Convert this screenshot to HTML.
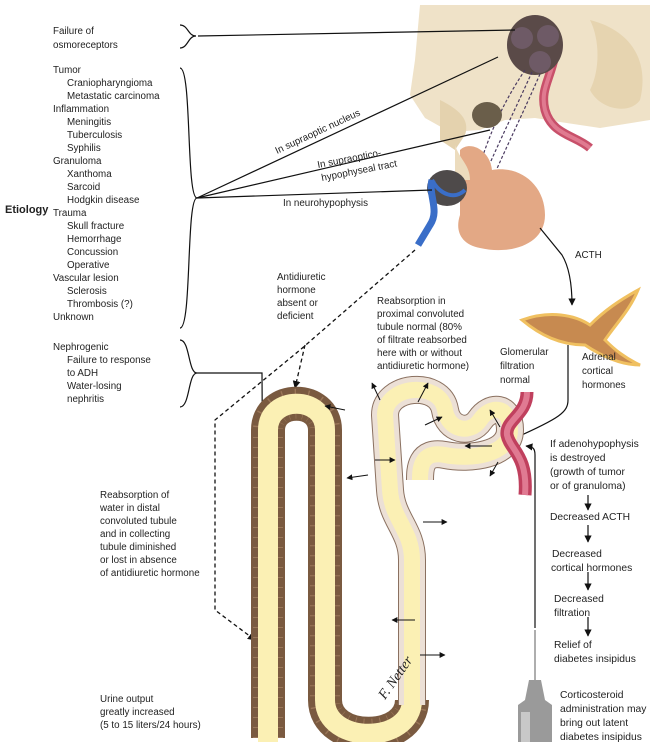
<!DOCTYPE html>
<html><head><meta charset="utf-8"><style>
html,body{margin:0;padding:0;background:#fff;}
svg{display:block;}
text{font-family:"Liberation Sans",sans-serif;font-size:9.8px;fill:#222;}
.r{font-size:10.3px;}
</style></head><body>
<svg width="650" height="742" viewBox="0 0 650 742" xmlns="http://www.w3.org/2000/svg">
<defs>
<marker id="ah" viewBox="0 0 10 10" refX="9" refY="5" markerWidth="6" markerHeight="6" orient="auto"><path d="M0,0L10,5L0,10z" fill="#111"/></marker>
</defs>
<path d="M420,5 L650,5 L650,120 L600,128 L560,122 L535,118 L505,120 L480,130 L450,132 L425,118 L410,95 L415,60 Z" fill="#efe2c8"/>
<path d="M590,20 C630,30 650,60 640,100 C630,115 600,110 590,90 C600,70 600,40 590,20Z" fill="#e6d4b0"/>
<path d="M440,100 C460,110 470,120 465,135 L455,150 L440,140 Z" fill="#e4d2ae"/>
<path d="M520,35 C535,20 560,25 555,55 C550,80 540,90 545,110 C552,135 575,135 590,148" fill="none" stroke="#c8506a" stroke-width="9"/>
<path d="M520,35 C535,20 560,25 555,55 C550,80 540,90 545,110 C552,135 575,135 590,148" fill="none" stroke="#e07a90" stroke-width="4"/>
<ellipse cx="535" cy="45" rx="28" ry="30" fill="#5a4a48"/>
<circle cx="522" cy="38" r="11" fill="#6e5a66"/><circle cx="548" cy="36" r="11" fill="#6e5a66"/><circle cx="540" cy="62" r="11" fill="#6e5a66"/>
<path d="M525,70 C505,100 490,130 475,180 M532,72 C515,110 495,150 482,182 M540,74 C520,120 500,160 490,185" stroke="#4a3a60" stroke-width="1.2" stroke-dasharray="3,2" fill="none"/>
<ellipse cx="487" cy="115" rx="15" ry="13" fill="#6a5e4a"/>
<path d="M460,150 C470,140 490,150 492,170 C520,165 545,185 545,215 C545,245 510,255 480,248 C460,244 455,230 460,215 Z" fill="#e3a885"/>
<path d="M455,145 C460,160 470,165 470,180 L455,180 Z" fill="#ecdcbe"/>
<ellipse cx="447" cy="188" rx="20" ry="18" fill="#4e4a4a"/>
<path d="M432,180 C428,195 440,210 430,225 L418,245" stroke="#3a6ec8" stroke-width="7" fill="none"/>
<path d="M432,180 C440,195 455,200 465,190" stroke="#3a6ec8" stroke-width="4" fill="none"/>
<g stroke="#111" stroke-width="1.2" fill="none">
<line x1="198" y1="36" x2="515" y2="30"/>
<line x1="197" y1="198" x2="498" y2="57"/>
<line x1="197" y1="198" x2="490" y2="130"/>
<line x1="197" y1="198" x2="432" y2="190"/>
<path d="M180,25 C188,25 188,36 196,36 C188,36 188,48 180,48"/>
<path d="M180,68 C192,68 186,198 197,198 C186,198 192,328 180,328"/>
<path d="M180,340 C190,340 188,373 197,373 C188,373 190,407 180,407"/>
<polyline points="197,373 262,373 264,715"/>
<path d="M540,228 L562,255 C568,265 572,280 572,305" marker-end="url(#ah)"/>
<path d="M568,345 L568,400 C568,412 560,418 515,438" marker-end="url(#ah)"/>
<path d="M535,628 L535,455 C535,448 533,447 526,446" marker-end="url(#ah)"/>
<line x1="588" y1="495" x2="588" y2="510" marker-end="url(#ah)"/>
<line x1="588" y1="525" x2="588" y2="542" marker-end="url(#ah)"/>
<line x1="588" y1="572" x2="588" y2="590" marker-end="url(#ah)"/>
<line x1="588" y1="617" x2="588" y2="636" marker-end="url(#ah)"/>
</g>
<g stroke="#111" stroke-width="1.3" fill="none" stroke-dasharray="4,3">
<path d="M415,250 L300,350 L215,420 L215,610 L255,640" marker-end="url(#ah)"/>
<path d="M305,345 L295,388" marker-end="url(#ah)"/>
</g>
<path d="M522,320 C550,310 575,315 590,325 C605,310 620,300 638,290 C630,310 615,325 605,340 C615,350 625,358 640,365 C620,365 600,355 585,345 C560,345 540,335 522,320Z" fill="#c78a50" stroke="#f0c060" stroke-width="3"/>
<path d="M268,738 L268,430 C268,395 325,395 325,430 L325,700 C325,745 412,745 412,700" fill="none" stroke="#7a5a40" stroke-width="34"/>
<path d="M268,738 L268,430 C268,395 325,395 325,430 L325,700 C325,745 412,745 412,700" fill="none" stroke="#9a7658" stroke-width="30" stroke-dasharray="1,9"/>
<path d="M268,742 L268,430 C268,395 325,395 325,430 L325,700 C325,745 412,745 412,700" fill="none" stroke="#fbf0b4" stroke-width="20"/>
<path d="M412,705 L412,560 C412,530 392,520 390,490 L385,415 C385,385 440,380 445,410 C448,430 470,435 480,420 C490,405 510,405 510,430 C510,455 470,460 445,455 C420,450 420,470 420,480" fill="none" stroke="#8a7060" stroke-width="28"/>
<path d="M412,705 L412,560 C412,530 392,520 390,490 L385,415 C385,385 440,380 445,410 C448,430 470,435 480,420 C490,405 510,405 510,430 C510,455 470,460 445,455 C420,450 420,470 420,480" fill="none" stroke="#ece0d6" stroke-width="26"/>
<path d="M412,710 L412,560 C412,530 392,520 390,490 L385,415 C385,385 440,380 445,410 C448,430 470,435 480,420 C490,405 510,405 510,430 C510,455 470,460 445,455 C420,450 420,470 420,480" fill="none" stroke="#fbf0b4" stroke-width="16"/>
<path d="M527,392 C527,415 505,420 507,435 C510,450 528,455 525,495" fill="none" stroke="#c0405e" stroke-width="13"/>
<path d="M527,392 C527,415 505,420 507,435 C510,450 528,455 525,495" fill="none" stroke="#e07a92" stroke-width="6"/>
<g stroke="#111" stroke-width="1" fill="none" marker-end="url(#ah)">
<line x1="345" y1="410" x2="325" y2="406"/><line x1="380" y1="400" x2="372" y2="383"/><line x1="418" y1="402" x2="428" y2="383"/>
<line x1="425" y1="425" x2="442" y2="417"/><line x1="375" y1="460" x2="395" y2="460"/><line x1="368" y1="475" x2="347" y2="478"/>
<line x1="423" y1="522" x2="447" y2="522"/><line x1="415" y1="620" x2="392" y2="620"/><line x1="420" y1="655" x2="445" y2="655"/>
<line x1="492" y1="446" x2="465" y2="446"/><line x1="500" y1="427" x2="490" y2="410"/><line x1="498" y1="462" x2="490" y2="476"/>
</g>
<line x1="535" y1="630" x2="535" y2="680" stroke="#777" stroke-width="1.2"/>
<path d="M529,680 L541,680 L545,700 L552,705 L552,742 L518,742 L518,705 L525,700 Z" fill="#9a9a9a"/>
<rect x="521" y="712" width="9" height="30" fill="#c8c8c8"/>
<text x="385" y="700" style="font-family:'Liberation Serif',serif;font-style:italic;font-size:14px" transform="rotate(-55 385 700)">F. Netter</text>
<text x="5" y="213" style="font-weight:bold;font-size:11px">Etiology</text>
<text x="53" y="34">Failure of</text><text x="53" y="48">osmoreceptors</text>
<text x="53" y="73">Tumor</text><text x="67" y="86">Craniopharyngioma</text><text x="67" y="99">Metastatic carcinoma</text>
<text x="53" y="112">Inflammation</text><text x="67" y="125">Meningitis</text><text x="67" y="138">Tuberculosis</text><text x="67" y="151">Syphilis</text>
<text x="53" y="164">Granuloma</text><text x="67" y="177">Xanthoma</text><text x="67" y="190">Sarcoid</text><text x="67" y="203">Hodgkin disease</text>
<text x="53" y="216">Trauma</text><text x="67" y="229">Skull fracture</text><text x="67" y="242">Hemorrhage</text><text x="67" y="255">Concussion</text><text x="67" y="268">Operative</text>
<text x="53" y="281">Vascular lesion</text><text x="67" y="294">Sclerosis</text><text x="67" y="307">Thrombosis (?)</text><text x="53" y="320">Unknown</text>
<text x="53" y="350">Nephrogenic</text><text x="67" y="363">Failure to response</text><text x="67" y="376">to ADH</text><text x="67" y="389">Water-losing</text><text x="67" y="402">nephritis</text>
<text x="277" y="154" transform="rotate(-25 277 154)">In supraoptic nucleus</text>
<text x="318" y="168" transform="rotate(-11 318 168)">In supraoptico-</text>
<text x="322" y="181" transform="rotate(-11 322 181)">hypophyseal tract</text>
<text x="283" y="206">In neurohypophysis</text>
<text x="575" y="258">ACTH</text>
<text x="277" y="280">Antidiuretic</text><text x="277" y="293">hormone</text><text x="277" y="306">absent or</text><text x="277" y="319">deficient</text>
<text x="377" y="304">Reabsorption in</text><text x="377" y="317">proximal convoluted</text><text x="377" y="330">tubule normal (80%</text><text x="377" y="343">of filtrate reabsorbed</text><text x="377" y="356">here with or without</text><text x="377" y="369">antidiuretic hormone)</text>
<text x="500" y="355">Glomerular</text><text x="500" y="369">filtration</text><text x="500" y="383">normal</text>
<text x="582" y="360">Adrenal</text><text x="582" y="374">cortical</text><text x="582" y="388">hormones</text>
<text class="r" x="550" y="447">If adenohypophysis</text><text class="r" x="550" y="461">is destroyed</text><text class="r" x="550" y="475">(growth of tumor</text><text class="r" x="550" y="489">or of granuloma)</text>
<text class="r" x="550" y="520">Decreased ACTH</text>
<text class="r" x="552" y="557">Decreased</text><text class="r" x="551" y="571">cortical hormones</text>
<text class="r" x="554" y="602">Decreased</text><text class="r" x="554" y="616">filtration</text>
<text class="r" x="554" y="648">Relief of</text><text class="r" x="554" y="662">diabetes insipidus</text>
<text class="r" x="560" y="698">Corticosteroid</text><text class="r" x="560" y="712">administration may</text><text class="r" x="560" y="726">bring out latent</text><text class="r" x="560" y="740">diabetes insipidus</text>
<text x="100" y="498">Reabsorption of</text><text x="100" y="511">water in distal</text><text x="100" y="524">convoluted tubule</text><text x="100" y="537">and in collecting</text><text x="100" y="550">tubule diminished</text><text x="100" y="563">or lost in absence</text><text x="100" y="576">of antidiuretic hormone</text>
<text x="100" y="702">Urine output</text><text x="100" y="715">greatly increased</text><text x="100" y="728">(5 to 15 liters/24 hours)</text>
</svg>
</body></html>
